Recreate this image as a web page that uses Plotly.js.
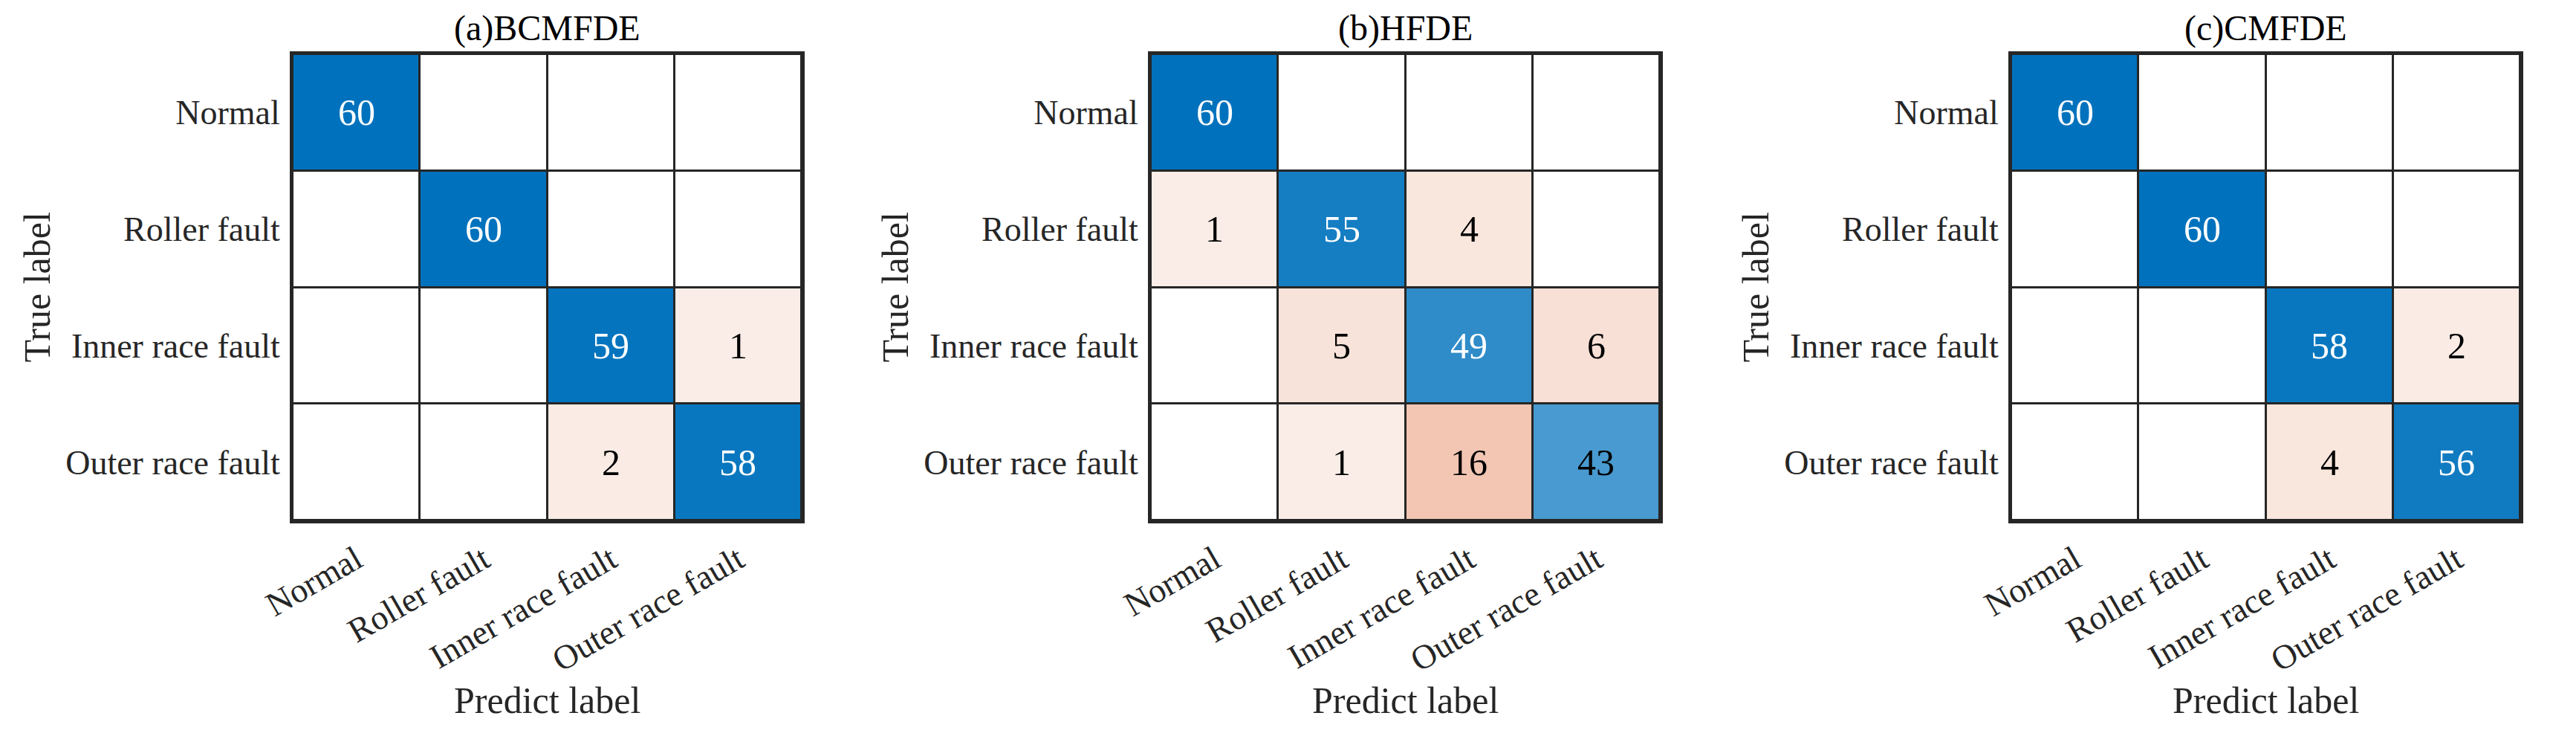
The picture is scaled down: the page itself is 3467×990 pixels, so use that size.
<!DOCTYPE html>
<html>
<head>
<meta charset="utf-8">
<script src="https://cdn.plot.ly/plotly-3.0.1.min.js"></script>
<style>html,body{margin:0;padding:0;background:#fff;}#chart{width:3467px;height:990px;}</style>
</head>
<body>
<div id="chart"></div>
<script>
// ---- data ----
const classes = ['Normal', 'Roller fault', 'Inner race fault', 'Outer race fault'];
const panelTitles = ['(a)BCMFDE', '(b)HFDE', '(c)CMFDE'];
const bcmfde = [[60, 0, 0, 0], [0, 60, 0, 0], [0, 0, 59, 1], [0, 0, 2, 58]];
const hfde   = [[60, 0, 0, 0], [1, 55, 4, 0], [0, 5, 49, 6], [0, 1, 16, 43]];
const cmfde  = [[60, 0, 0, 0], [0, 60, 0, 0], [0, 0, 58, 2], [0, 0, 4, 56]];
const xLabel = 'Predict label';
const yLabel = 'True label';

// ---- style ----
const W = 3467, H = 990;
const FONT = 'Liberation Serif, Times New Roman, serif';
const DARK = '#262626';
const plotTop = 73, plotBottom = 700;
const plotLefts = [394, 1549, 2707];
const plotW = 685;
const maxCount = 60;
const matrices = [bcmfde, hfde, cmfde];

const data = [];
const annotations = [];
const layout = {
  width: W, height: H,
  margin: {l: 0, r: 0, t: 0, b: 0},
  paper_bgcolor: '#ffffff',
  plot_bgcolor: DARK,
  showlegend: false,
  hovermode: false,
  font: {family: FONT, color: DARK}
};

matrices.forEach((m, p) => {
  const n = p + 1;
  const xa = 'x' + (n === 1 ? '' : n), ya = 'y' + (n === 1 ? '' : n);
  const xk = 'xaxis' + (n === 1 ? '' : n), yk = 'yaxis' + (n === 1 ? '' : n);
  const common = {x: classes, y: classes, xaxis: xa, yaxis: ya, xgap: 3, ygap: 3,
                  showscale: false, hoverinfo: 'skip', zmin: 0, zmax: maxCount};
  // white base for every cell
  data.push(Object.assign({type: 'heatmap', z: m.map(r => r.map(() => 0)),
    colorscale: [[0, '#ffffff'], [1, '#ffffff']]}, common));
  // diagonal (correct) cells - blue
  data.push(Object.assign({type: 'heatmap',
    z: m.map((r, ri) => r.map((v, ci) => (ri === ci && v > 0) ? v : null)),
    colorscale: [[0, '#ffffff'], [1, '#0072BD']]}, common));
  // off-diagonal (wrong) cells - orange
  data.push(Object.assign({type: 'heatmap',
    z: m.map((r, ri) => r.map((v, ci) => (ri !== ci && v > 0) ? v : null)),
    colorscale: [[0, '#FBF0EB'], [1, '#D95319']]}, common));

  const x0 = plotLefts[p] / W, x1 = (plotLefts[p] + plotW) / W;
  layout[xk] = {
    domain: [x0, x1], anchor: ya, type: 'category',
    tickangle: -30, ticks: '', showgrid: false, zeroline: false,
    showline: true, mirror: true, linewidth: 4, linecolor: DARK,
    ticklabelstandoff: 4,
    tickfont: {family: FONT, size: 46, color: DARK}, fixedrange: true
  };
  layout[yk] = {
    domain: [1 - plotBottom / H, 1 - plotTop / H], anchor: xa, type: 'category',
    autorange: 'reversed', ticks: '', showgrid: false, zeroline: false,
    showline: true, mirror: true, linewidth: 4, linecolor: DARK,
    ticklabelstandoff: 4,
    tickfont: {family: FONT, size: 46, color: DARK}, fixedrange: true
  };

  // cell values
  m.forEach((r, ri) => r.forEach((v, ci) => {
    if (v > 0) {
      const isDiag = ri === ci;
      annotations.push({xref: xa, yref: ya, x: classes[ci], y: classes[ri], text: String(v),
        showarrow: false, xanchor: 'center', yanchor: 'middle',
        font: {family: FONT, size: 50, color: (isDiag && v / maxCount > 0.75) ? '#ffffff' : '#000000'}});
    }
  }));
  // panel title
  annotations.push({xref: xa + ' domain', yref: ya + ' domain', x: 0.5, y: 1, yshift: 35,
    xanchor: 'center', yanchor: 'middle',
    text: panelTitles[p], showarrow: false, font: {family: FONT, size: 48, color: '#000000'}});
  // axis titles
  annotations.push({xref: xa + ' domain', yref: ya + ' domain', x: 0.5, y: 0, yshift: -242,
    xanchor: 'center', yanchor: 'middle',
    text: xLabel, showarrow: false, font: {family: FONT, size: 50, color: DARK}});
  annotations.push({xref: xa + ' domain', yref: ya + ' domain', x: 0, y: 0.5, xshift: -345,
    xanchor: 'center', yanchor: 'middle',
    text: yLabel, textangle: -90, showarrow: false, font: {family: FONT, size: 50, color: DARK}});
});
layout.annotations = annotations;

Plotly.newPlot('chart', data, layout, {displayModeBar: false, staticPlot: true});
</script>
</body>
</html>
